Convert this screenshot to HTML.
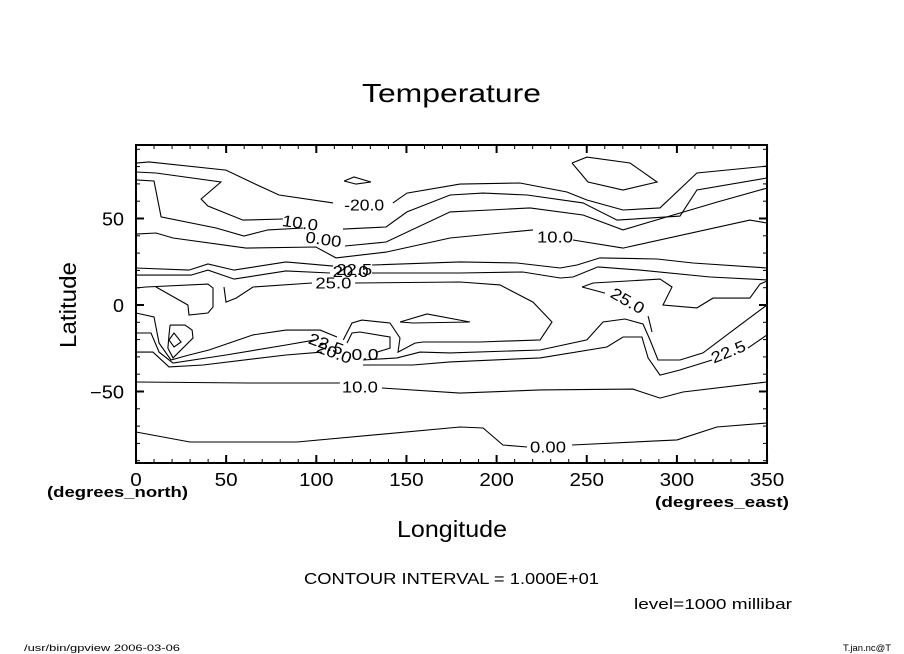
<!DOCTYPE html>
<html><head><meta charset="utf-8"><style>
html,body{margin:0;padding:0;background:#fff;}
svg{display:block;font-family:"Liberation Sans","DejaVu Sans",sans-serif;}
</style></head><body>
<svg id="chart" width="904" height="654" viewBox="0 0 904 654" xmlns="http://www.w3.org/2000/svg">
<rect x="0" y="0" width="904" height="654" fill="#fff"/>
<text x="362" y="102" font-size="26" textLength="179" lengthAdjust="spacingAndGlyphs">Temperature</text>
<g id="contours" fill="none" stroke="#000" stroke-width="1.1"></g>
<g id="clabels" font-size="16" text-anchor="middle"></g>
<g id="axes"></g>
<text x="397" y="537" font-size="23" textLength="110" lengthAdjust="spacingAndGlyphs">Longitude</text>
<text x="-348" y="76" font-size="23" textLength="86" lengthAdjust="spacingAndGlyphs" transform="rotate(-90)">Latitude</text>
<text x="655" y="507" font-size="15" font-weight="bold" textLength="134" lengthAdjust="spacingAndGlyphs">(degrees_east)</text>
<text x="47" y="497" font-size="15" font-weight="bold" textLength="141" lengthAdjust="spacingAndGlyphs">(degrees_north)</text>
<text x="304" y="584" font-size="16" textLength="295" lengthAdjust="spacingAndGlyphs">CONTOUR INTERVAL = 1.000E+01</text>
<text x="634" y="609" font-size="15" textLength="158" lengthAdjust="spacingAndGlyphs">level=1000 millibar</text>
<text x="24" y="651" font-size="9" textLength="156" lengthAdjust="spacingAndGlyphs">/usr/bin/gpview   2006-03-06</text>
<text x="843" y="651" font-size="9" textLength="48" lengthAdjust="spacingAndGlyphs">T.jan.nc@T</text>
</svg>
<script>
// ---- data ----
const lonTicks = [0,50,100,150,200,250,300,350];
const latTicks = [-50,0,50];
const contourLines = [
 [[0,82],[7.2,82.7],[49.9,78],[64.9,70.5],[79.3,63.6],[109.3,59]],
 [[142.5,59],[150.3,64.7],[179.7,69.9],[213,70.5],[239,65.3],[250.1,60.7],[270.1,54.9],[290.6,56.1],[311.1,76.3],[350,80.3]],
 [[0,76.9],[11.1,76.3],[47.1,71.1],[36.1,61.3],[39.9,57.2],[59.3,49.1],[81.5,49.7]],
 [[114.8,43.9],[138.7,45.1],[150.3,53.8],[174.2,63.6],[192.5,64.7],[216.9,63.6],[247.9,59],[266.8,49.1],[301.7,51.4],[311.1,66.5],[350,73.4]],
 [[0,72.3],[10,71.7],[13.9,50.9],[44.4,44.5],[59.9,39.9],[73.2,43.4],[92.6,44.5]],
 [[115.9,34.1],[138.7,36.4],[174.2,53.8],[196.3,54.9],[218.5,56.1],[247.9,52],[270.1,43.4],[322.2,59.5],[350,67.6]],
 [[0,41],[11.1,41.6],[20.5,38.7],[61,32.9],[99.8,33.5],[110.9,27.2],[138.7,30.6],[174.2,38.7],[220.2,43.4]],
 [[242.4,37.6],[270.1,32.9],[340.5,49.1],[350,47.4]],
 [[241.8,82.1],[250.1,85.5],[274,82.1],[289,71.1],[270.1,66.5],[250.7,71.1],[241.8,82.1]],
 [[115.4,71.7],[120.9,74],[130.3,71.1],[122,69.9],[115.4,71.7]],
 [[0,21.4],[29.4,20.2],[39.9,23.7],[54.4,20.2],[83.2,24.9],[109.3,22.5]],
 [[130.9,23.1],[179.7,24.9],[211.3,24.3],[235.2,21.4],[244.6,23.1],[257.3,27.2],[289,26.6],[308.9,24.3],[350,21.4]],
 [[0,17.3],[30.5,17.3],[39.9,20.2],[54.4,15],[83.2,19.7],[107.6,18.5]],
 [[130.9,18.5],[179.7,18.5],[214.6,19.1],[235.2,15.6],[242.4,16.2],[256.2,22],[279.5,20.2],[318.4,16.2],[350,14.5]],
 [[115,-20.2],[119.8,-10.4],[125.3,-8.7],[140.9,-10.4],[146.4,-19.1],[145.3,-27.2],[154.7,-22],[159.2,-21.4],[190.8,-21.4],[224.1,-20.2],[230.7,-9.8],[220.2,1.7],[201.9,11.6],[179.7,13.3],[121.5,12.7]],
 [[97.6,12.7],[64.9,10.4],[55.5,4],[49.9,1.7],[48.8,10.4]],
 [[0,9.8],[5.5,10.4],[39.9,12.1],[42.7,9.8],[42.7,-1.2],[39.9,-4.6],[29.4,-5.8],[28.8,0],[11.1,10.4]],
 [[0,-4.6],[10,-6.9],[12.8,-22],[19.4,-31.8],[29.4,-28.9],[40.5,-26],[64.9,-17.3],[83.2,-14.5],[102.1,-14.5],[111.5,-18.5]],
 [[0,-16.2],[8.3,-16.2],[12.8,-27.2],[20.5,-33.5],[49.9,-28.9],[83.2,-23.1],[99.3,-20.2]],
 [[0,-27.2],[9.4,-27.2],[18.3,-35.8],[37.2,-34.7],[83.2,-28.9],[103.2,-27.2]],
 [[18.9,-11.6],[27.2,-11.6],[31.1,-14.5],[31.6,-19.1],[20.5,-30.6],[17.7,-24.9],[18.3,-17.3],[18.9,-11.6]],
 [[18.3,-20.2],[21.1,-16.2],[25,-21.4],[21.1,-24.3],[18.3,-20.2]],
 [[117,-22],[119.8,-16.2],[124.2,-15.6],[140.9,-18.5],[140.9,-24.9],[133.7,-27.2]],
 [[125.9,-31.8],[144.8,-30.6],[157.5,-27.2],[174.2,-27.7],[224.1,-26],[250.1,-20.2],[259,-9.8],[271.2,-8.1],[281.2,-11],[285.1,-20.2],[289.5,-31.8],[301.7,-31.8],[314.5,-27.7],[335,-11.6],[350,0]],
 [[125.9,-34.7],[153.6,-34.7],[174.2,-32.9],[224.1,-30.6],[261.2,-24.3],[270.1,-18.5],[280.6,-18.5],[284,-30.6],[290.6,-40.5],[301.7,-37.6],[319.5,-31.8]],
 [[339.4,-24.9],[350,-17.3]],
 [[247.4,10.4],[253.5,12.7],[290.6,15],[297.3,10.4],[292.3,0],[311.1,-1.7],[320,4],[340.5,4],[346.1,12.1],[350,13.9]],
 [[247.4,10.4],[260.1,6.9]],
 [[284,-6.4],[286.2,-15.6]],
 [[146.4,-9.8],[161.4,-5.2],[185.2,-9.8],[153.6,-10.4],[146.4,-9.8]],
 [[0,-44.5],[61.6,-45.1],[113.1,-45.1]],
 [[136.4,-48],[179.7,-50.9],[224.1,-49.1],[275.6,-48.6],[290.6,-53.8],[303.4,-50.3],[350,-44.5]],
 [[0,-73.4],[29.9,-79.2],[89.3,-79.2],[179.7,-70.5],[192.5,-71.1],[203.5,-80.9],[216.9,-82.1]],
 [[241.8,-80.9],[300.1,-78],[322.2,-70.5],[350,-68.2]]
];
const labelText = ["-20.0","10.0","0.00","20.0","22.5","25.0","10.0","25.0","22.5","22.5","20.0","0.0","10.0","0.00"];
const labelLon  = [126.5,91,104,119,121,109.5,232.4,272.7,328.5,105.5,110,127,124.2,228.5];
const labelLat  = [58,47.5,38,19.5,20.7,12.7,39.3,2.5,-27,-22.5,-27.5,-28.5,-47.4,-82.1];
const labelRot  = [0,8,8,0,0,0,0,30,-22,20,20,0,0,0];

// ---- axis functions ----
const X0=136, X1=767, Y0=145, Y1=463;
function xs(lon){ return 136 + lon*1.803; }
function ys(lat){ return 305 - lat*1.73; }
const NS="http://www.w3.org/2000/svg";

const cg=document.getElementById('contours');
contourLines.forEach((ln,i)=>{
  const p=document.createElementNS(NS,'polyline');
  p.setAttribute('points', ln.map(q=>xs(q[0]).toFixed(1)+','+ys(q[1]).toFixed(1)).join(' '));
  
  
  cg.appendChild(p);
});
const lg=document.getElementById('clabels');
labelText.forEach((t,i)=>{
  const e=document.createElementNS(NS,'text');
  const x=xs(labelLon[i]), y=ys(labelLat[i]);
  e.setAttribute('x',0); e.setAttribute('y',0);
  e.setAttribute('dy','0.35em');
  e.setAttribute('textLength', t.length>4?40:(t.length>3?36:27));
  e.setAttribute('lengthAdjust','spacingAndGlyphs');
  e.setAttribute('transform','translate('+x.toFixed(1)+','+y.toFixed(1)+') rotate('+labelRot[i]+')');
  e.textContent=t;
  
  
  lg.appendChild(e);
});
const ag=document.getElementById('axes');
const frame=document.createElementNS(NS,'rect');
frame.setAttribute('x',X0); frame.setAttribute('y',Y0);
frame.setAttribute('width',X1-X0); frame.setAttribute('height',Y1-Y0);
frame.setAttribute('fill','none'); frame.setAttribute('stroke','#000'); frame.setAttribute('stroke-width','2');


ag.appendChild(frame);
function line(x1,y1,x2,y2,w){
  const l=document.createElementNS(NS,'line');
  l.setAttribute('x1',x1);l.setAttribute('y1',y1);l.setAttribute('x2',x2);l.setAttribute('y2',y2);
  l.setAttribute('stroke','#000');l.setAttribute('stroke-width',w);
  
  
  ag.appendChild(l);
}
for(let lon=0;lon<=350;lon+=10){
  const x=xs(lon), major=lon%50===0, len=major?8:4;
  line(x,Y1,x,Y1-len,major?2:1); line(x,Y0,x,Y0+len,major?2:1);
}
for(let lat=-90;lat<=90;lat+=10){
  const y=ys(lat); if(y<Y0||y>Y1) continue;
  const major=lat%50===0, len=major?8:4;
  line(X0,y,X0+len,y,major?2:1); line(X1,y,X1-len,y,major?2:1);
}
lonTicks.forEach(v=>{
  const t=document.createElementNS(NS,'text');
  const s=String(v);
  t.setAttribute('x',xs(v)); t.setAttribute('y',486); t.setAttribute('font-size','18'); t.setAttribute('text-anchor','middle');
  t.setAttribute('textLength', s.length*11.5); t.setAttribute('lengthAdjust','spacingAndGlyphs');
  t.textContent=s;
  
  
  ag.appendChild(t);
});
latTicks.forEach(v=>{
  const t=document.createElementNS(NS,'text');
  const s=(v<0?'\u2212':'')+Math.abs(v);
  t.setAttribute('x',124); t.setAttribute('y',ys(v)+7); t.setAttribute('font-size','18'); t.setAttribute('text-anchor','end');
  t.setAttribute('textLength', v<0?34:(v===0?11:22)); t.setAttribute('lengthAdjust','spacingAndGlyphs');
  t.textContent=s;
  
  
  ag.appendChild(t);
});
</script>
</body></html>
